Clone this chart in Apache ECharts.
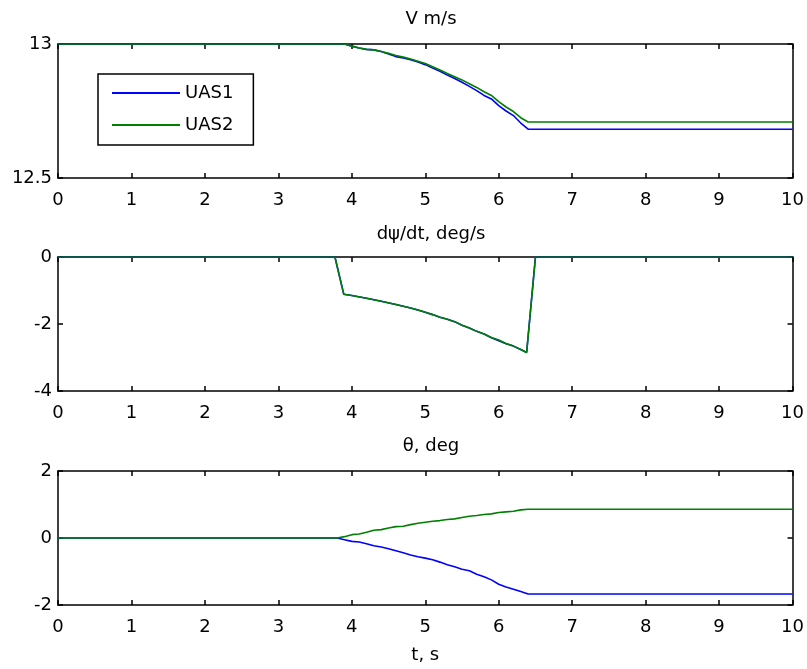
<!DOCTYPE html>
<html>
<head>
<meta charset="utf-8">
<title>UAS V, dpsi/dt, theta</title>
<script src="https://cdn.jsdelivr.net/npm/echarts@6/dist/echarts.min.js"></script>
<style>
  html, body { margin: 0; padding: 0; background: #fff; }
  #chart { width: 807px; height: 669px; }
</style>
</head>
<body>
<div id="chart"></div>
<script>
// ---- data ----
const seriesNames = ['UAS1', 'UAS2'];
const xTicks = [0, 1, 2, 3, 4, 5, 6, 7, 8, 9, 10];

// Speed V, m/s
const tV = [0, 3.9, 4.0, 4.1, 4.2, 4.3, 4.4, 4.5, 4.6, 4.7, 4.8, 4.9, 5.0, 5.1, 5.2, 5.3, 5.4, 5.5, 5.6, 5.7, 5.8, 5.9, 6.0, 6.1, 6.2, 6.3, 6.4, 10];
const vUAS1 = [13.0, 13.0, 12.992, 12.985, 12.980, 12.978, 12.972, 12.963, 12.953, 12.948, 12.941, 12.933, 12.923, 12.910, 12.898, 12.884, 12.871, 12.857, 12.842, 12.826, 12.808, 12.795, 12.770, 12.750, 12.733, 12.705, 12.682, 12.682];
const vUAS2 = [13.0, 13.0, 12.992, 12.985, 12.980, 12.978, 12.972, 12.965, 12.957, 12.951, 12.944, 12.936, 12.927, 12.915, 12.903, 12.890, 12.878, 12.866, 12.852, 12.838, 12.822, 12.808, 12.785, 12.765, 12.748, 12.725, 12.709, 12.709];

// Yaw rate dpsi/dt, deg/s
const tPsi = [0, 3.77, 3.89, 4.0, 4.2, 4.4, 4.6, 4.8, 4.9, 5.0, 5.1, 5.2, 5.3, 5.4, 5.5, 5.6, 5.7, 5.8, 5.9, 6.0, 6.1, 6.2, 6.3, 6.38, 6.5, 10];
const psiUAS1 = [0, 0, -1.11, -1.15, -1.23, -1.32, -1.42, -1.52, -1.58, -1.65, -1.72, -1.80, -1.86, -1.93, -2.04, -2.12, -2.22, -2.30, -2.41, -2.50, -2.59, -2.66, -2.76, -2.85, 0, 0];
const psiUAS2 = [0, 0, -1.11, -1.15, -1.23, -1.32, -1.42, -1.52, -1.58, -1.65, -1.72, -1.80, -1.86, -1.93, -2.04, -2.12, -2.22, -2.30, -2.40, -2.48, -2.58, -2.66, -2.76, -2.85, 0, 0];

// Pitch angle theta, deg
const tTheta = [0, 3.8, 3.9, 4.0, 4.1, 4.2, 4.3, 4.4, 4.5, 4.6, 4.7, 4.8, 4.9, 5.0, 5.1, 5.2, 5.3, 5.4, 5.5, 5.6, 5.7, 5.8, 5.9, 6.0, 6.1, 6.2, 6.3, 6.4, 10];
const thetaUAS1 = [0, 0, -0.05, -0.10, -0.12, -0.17, -0.23, -0.27, -0.32, -0.38, -0.44, -0.51, -0.56, -0.60, -0.65, -0.72, -0.80, -0.86, -0.93, -0.98, -1.08, -1.16, -1.25, -1.38, -1.46, -1.53, -1.60, -1.67, -1.67];
const thetaUAS2 = [0, 0, 0.04, 0.10, 0.12, 0.17, 0.23, 0.25, 0.30, 0.34, 0.35, 0.40, 0.44, 0.47, 0.50, 0.52, 0.55, 0.57, 0.61, 0.65, 0.67, 0.70, 0.72, 0.76, 0.78, 0.80, 0.84, 0.86, 0.86];

const panelTitles = ['V m/s', 'd\u03c8/dt, deg/s', '\u03b8, deg'];
const xTitle = 't, s';
const yRanges = [
  { min: 12.5, max: 13, interval: 0.5 },
  { min: -4, max: 0, interval: 2 },
  { min: -2, max: 2, interval: 2 }
];

// ---- chart ----
const FONT = 'DejaVu Sans, Liberation Sans, sans-serif';
const FS = 18;
const colors = ['#0000ff', '#008000'];

const grids = [
  { left: 58, right: 14, top: 44, height: 134 },
  { left: 58, right: 14, top: 257, height: 134 },
  { left: 58, right: 14, top: 471, height: 134 }
];
const titleTops = [5, 220, 432];

const axisLine = { show: true, onZero: false, lineStyle: { color: '#000', width: 1.5 } };
const axisTick = { show: true, inside: true, length: 5, lineStyle: { color: '#000', width: 1.5 } };

const xAxes = [];
const yAxes = [];
grids.forEach((g, i) => {
  // bottom axis with labels
  xAxes.push({
    gridIndex: i, type: 'value', position: 'bottom',
    min: xTicks[0], max: xTicks[xTicks.length - 1], interval: 1,
    axisLine, axisTick, splitLine: { show: false },
    axisLabel: { show: true, color: '#000', fontFamily: FONT, fontSize: FS, margin: 13 },
    name: i === 2 ? xTitle : '',
    nameLocation: 'middle', nameGap: 41,
    nameTextStyle: { color: '#000', fontFamily: FONT, fontSize: FS }
  });
  // top box edge
  xAxes.push({
    gridIndex: i, type: 'value', position: 'top',
    min: xTicks[0], max: xTicks[xTicks.length - 1], interval: 1,
    axisLine, axisTick, splitLine: { show: false }, axisLabel: { show: false }
  });
  const r = yRanges[i];
  yAxes.push({
    gridIndex: i, type: 'value', position: 'left',
    min: r.min, max: r.max, interval: r.interval,
    axisLine, axisTick, splitLine: { show: false },
    axisLabel: { show: true, color: '#000', fontFamily: FONT, fontSize: FS, margin: 6 }
  });
  yAxes.push({
    gridIndex: i, type: 'value', position: 'right',
    min: r.min, max: r.max, interval: r.interval,
    axisLine, axisTick, splitLine: { show: false }, axisLabel: { show: false }
  });
});

function pairs(t, v) { return t.map((x, k) => [x, v[k]]); }

function lineSeries(name, idx, t, v, color) {
  return {
    name, type: 'line', xAxisIndex: idx * 2, yAxisIndex: idx * 2,
    data: pairs(t, v), showSymbol: false, symbol: 'none',
    lineStyle: { color, width: 1.6 }, itemStyle: { color },
    animation: false, clip: true
  };
}

const option = {
  backgroundColor: '#fff',
  animation: false,
  title: panelTitles.map((txt, i) => ({
    text: txt, left: 426, textAlign: 'center', top: titleTops[i],
    textStyle: { color: '#000', fontFamily: FONT, fontSize: FS, fontWeight: 'normal' }
  })),
  legend: {
    data: seriesNames,
    orient: 'vertical',
    left: 98, top: 74,
    padding: [10, 20, 11, 14],
    icon: 'rect',
    itemWidth: 68, itemHeight: 2, itemGap: 14, itemTextGap: 10,
    borderColor: '#000', borderWidth: 1.5, backgroundColor: '#fff',
    textStyle: { color: '#000', fontFamily: FONT, fontSize: FS }
  },
  grid: grids,
  xAxis: xAxes,
  yAxis: yAxes,
  series: [
    lineSeries(seriesNames[0], 0, tV, vUAS1, colors[0]),
    lineSeries(seriesNames[1], 0, tV, vUAS2, colors[1]),
    lineSeries(seriesNames[0], 1, tPsi, psiUAS1, colors[0]),
    lineSeries(seriesNames[1], 1, tPsi, psiUAS2, colors[1]),
    lineSeries(seriesNames[0], 2, tTheta, thetaUAS1, colors[0]),
    lineSeries(seriesNames[1], 2, tTheta, thetaUAS2, colors[1])
  ]
};

const chart = echarts.init(document.getElementById('chart'), null, { renderer: 'canvas' });
chart.setOption(option);
</script>
</body>
</html>
